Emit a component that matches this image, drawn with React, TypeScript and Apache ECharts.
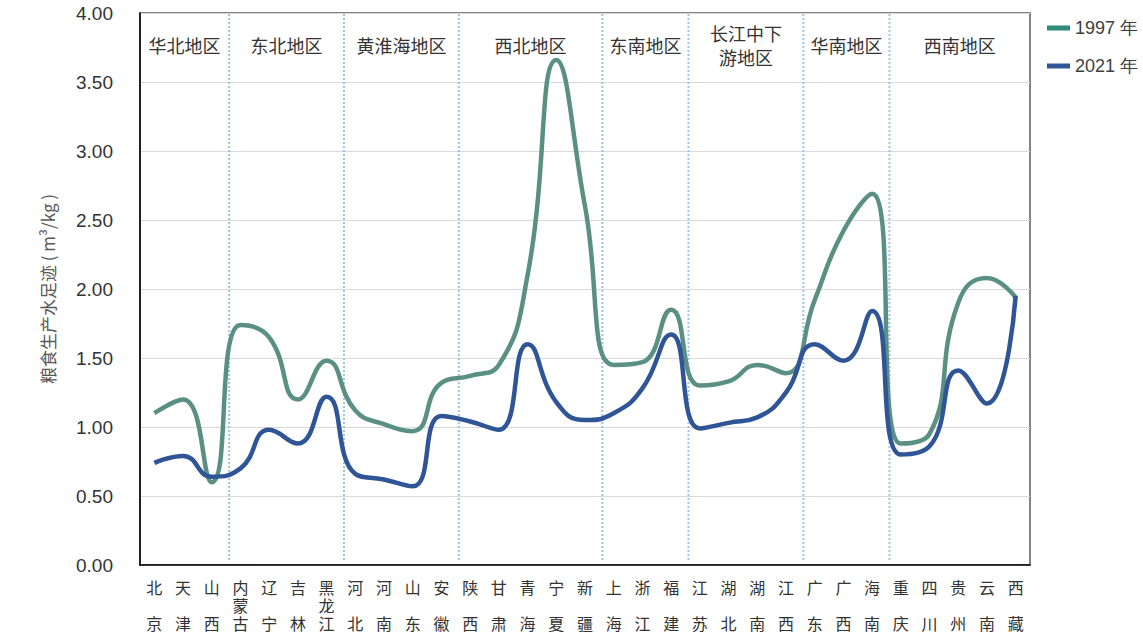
import React, { useEffect, useRef } from 'react';
import * as echarts from 'echarts';

const provinces = ['北京', '天津', '山西', '内蒙古', '辽宁', '吉林', '黑龙江', '河北', '河南', '山东', '安徽', '陕西', '甘肃', '青海', '宁夏', '新疆', '上海', '浙江', '福建', '江苏', '湖北', '湖南', '江西', '广东', '广西', '海南', '重庆', '四川', '贵州', '云南', '西藏'];
const values1997 = [1.10, 1.20, 0.60, 1.74, 1.65, 1.20, 1.48, 1.12, 1.02, 0.97, 1.32, 1.37, 1.45, 2.10, 3.66, 2.60, 1.45, 1.47, 1.85, 1.30, 1.33, 1.45, 1.39, 1.92, 2.42, 2.69, 0.88, 0.95, 1.90, 2.08, 1.94];
const values2021 = [0.74, 0.79, 0.64, 0.70, 0.98, 0.88, 1.22, 0.66, 0.62, 0.57, 1.08, 1.04, 0.98, 1.60, 1.18, 1.05, 1.10, 1.28, 1.67, 0.99, 1.03, 1.07, 1.25, 1.60, 1.48, 1.84, 0.80, 0.86, 1.41, 1.17, 1.95];
const seriesNames = ['1997 年', '2021 年'];
const regionNames = ['华北地区', '东北地区', '黄淮海地区', '西北地区', '东南地区', '长江中下\n游地区', '华南地区', '西南地区'];
const regionBounds = [0, 3, 7, 11, 16, 19, 23, 26, 31];

const W = 1143;
const H = 638;
const GRID_LEFT = 140;
const GRID_RIGHT = 113;
const GRID_TOP = 13;
const GRID_BOTTOM = 73;

const NARROW = "'Liberation Sans Narrow', 'Liberation Sans', Arial, sans-serif";
const CJK = "'Noto Sans CJK SC', sans-serif";

export default function App() {
  const ref = useRef<HTMLDivElement>(null);
  useEffect(() => {
    document.body.style.margin = '0';
    if (!ref.current) return;
    const chart = echarts.init(ref.current, null, { renderer: 'svg' });
    const gridW = W - GRID_LEFT - GRID_RIGHT;
    const band = gridW / provinces.length;
    const bx = (k: number) => GRID_LEFT + band * k + 3;
    const graphics: any[] = [];
    for (let i = 1; i < regionBounds.length - 1; i++) {
      const x = bx(regionBounds[i]);
      graphics.push({
        type: 'line',
        shape: { x1: x, y1: GRID_TOP + 1, x2: x, y2: H - GRID_BOTTOM - 5 },
        style: { stroke: '#9DC3E6', lineWidth: 2, lineDash: [2, 2] },
        z: 1,
      });
    }
    for (let i = 0; i < regionNames.length; i++) {
      const x0 = i === 0 ? GRID_LEFT : bx(regionBounds[i]);
      const x1 = i === regionNames.length - 1 ? GRID_LEFT + gridW : bx(regionBounds[i + 1]);
      graphics.push({
        type: 'text',
        x: (x0 + x1) / 2,
        y: 45,
        style: {
          text: regionNames[i],
          fontSize: 18,
          fontFamily: CJK,
          fill: '#333',
          align: 'center',
          verticalAlign: 'middle',
          lineHeight: 24,
        },
        z: 10,
      });
    }
    chart.setOption({
      animation: false,
      backgroundColor: '#fff',
      grid: {
        left: GRID_LEFT,
        right: GRID_RIGHT,
        top: GRID_TOP,
        bottom: GRID_BOTTOM,
        show: true,
        borderColor: '#595959',
        borderWidth: 1.5,
      },
      legend: {
        orient: 'vertical',
        left: 1042,
        top: 14,
        itemWidth: 23,
        itemHeight: 5,
        itemGap: 20,
        icon: 'rect',
        textStyle: { fontSize: 18, fontFamily: NARROW, color: '#404040' },
        data: [
          { name: seriesNames[0], itemStyle: { color: '#2E8B7C' } },
          { name: seriesNames[1], itemStyle: { color: '#2F5597' } },
        ],
      },
      xAxis: {
        type: 'category',
        data: provinces,
        boundaryGap: true,
        axisLine: { lineStyle: { color: '#000', width: 1.5 } },
        axisTick: { show: false },
        axisLabel: {
          interval: 0,
          margin: 13,
          fontSize: 16,
          fontFamily: CJK,
          color: '#333',
          lineHeight: 18,
          verticalAlign: 'top',
          formatter: (v: string) => (v.length === 2 ? v[0] + '\n\n' + v[1] : v.split('').join('\n')),
        },
      },
      yAxis: {
        type: 'value',
        min: 0,
        max: 4,
        interval: 0.5,
        name: '粮食生产水足迹 ( m³/kg )',
        nameLocation: 'middle',
        nameGap: 84,
        nameTextStyle: { fontSize: 17, fontFamily: CJK, color: '#595959' },
        axisLine: { show: true, lineStyle: { color: '#000', width: 1.5 } },
        axisTick: { show: false },
        splitLine: { lineStyle: { color: '#D9D9D9', width: 1 } },
        axisLabel: {
          margin: 27,
          fontSize: 19,
          fontFamily: NARROW,
          color: '#333',
          formatter: (v: number) => v.toFixed(2),
        },
      },
      series: [
        {
          name: seriesNames[0],
          type: 'line',
          data: values1997,
          smooth: 0.5,
          symbol: 'none',
          lineStyle: { color: '#5A9083', width: 4.5 },
          itemStyle: { color: '#5A9083' },
          z: 3,
        },
        {
          name: seriesNames[1],
          type: 'line',
          data: values2021,
          smooth: 0.5,
          symbol: 'none',
          lineStyle: { color: '#2F5597', width: 4.5 },
          itemStyle: { color: '#2F5597' },
          z: 4,
        },
      ],
      graphic: graphics,
    });
    return () => chart.dispose();
  }, []);
  return <div ref={ref} style={{ width: W, height: H }} />;
}
